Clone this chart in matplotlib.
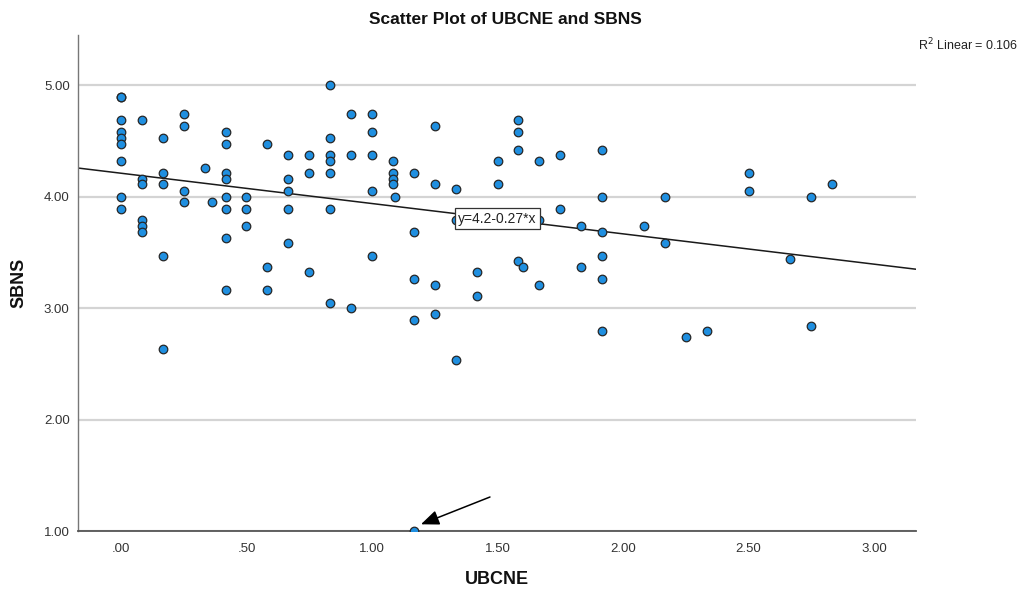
import matplotlib
matplotlib.use("Agg")
import matplotlib.pyplot as plt
import numpy as np

plt.rcParams['font.family'] = ['Liberation Sans', 'DejaVu Sans']

# ---- data ----
ubcne = [0, 0, 0, 0, 0, 0, 0, 0, 0,
         0.083, 0.083, 0.083, 0.083, 0.083, 0.083,
         0.167, 0.167, 0.167, 0.167, 0.167,
         0.25, 0.25, 0.25, 0.25,
         0.333, 0.364,
         0.417, 0.417, 0.417, 0.417, 0.417, 0.417, 0.417, 0.417,
         0.5, 0.5, 0.5,
         0.583, 0.583, 0.583,
         0.667, 0.667, 0.667, 0.667, 0.667,
         0.75, 0.75, 0.75,
         0.833, 0.833, 0.833, 0.833, 0.833, 0.833, 0.833,
         0.917, 0.917, 0.917,
         1.0, 1.0, 1.0, 1.0, 1.0,
         1.083, 1.083, 1.083, 1.083, 1.09,
         1.167, 1.167, 1.167, 1.167, 1.167,
         1.25, 1.25, 1.25, 1.25,
         1.333, 1.333, 1.333,
         1.417, 1.417,
         1.5, 1.5,
         1.583, 1.583, 1.583, 1.583, 1.60,
         1.667, 1.667, 1.667,
         1.75, 1.75,
         1.833, 1.833,
         1.917, 1.917, 1.917, 1.917, 1.917, 1.917,
         2.083, 2.167, 2.167, 2.25, 2.333,
         2.5, 2.5, 2.667, 2.75, 2.75, 2.833]
sbns = [4.89, 4.89, 4.69, 4.58, 4.53, 4.47, 4.32, 4.00, 3.89,
        4.69, 4.16, 4.11, 3.79, 3.74, 3.68,
        4.53, 4.21, 4.11, 3.47, 2.63,
        4.74, 4.63, 4.05, 3.95,
        4.26, 3.95,
        4.58, 4.47, 4.21, 4.16, 4.00, 3.89, 3.63, 3.16,
        4.00, 3.89, 3.74,
        4.47, 3.37, 3.16,
        4.37, 4.16, 4.05, 3.89, 3.58,
        4.37, 4.21, 3.32,
        5.00, 4.53, 4.37, 4.32, 4.21, 3.89, 3.05,
        4.74, 4.37, 3.00,
        4.74, 4.58, 4.37, 4.05, 3.47,
        4.32, 4.21, 4.16, 4.11, 4.00,
        4.21, 3.68, 3.26, 2.89, 1.00,
        4.63, 4.11, 3.21, 2.95,
        4.07, 3.79, 2.53,
        3.32, 3.11,
        4.32, 4.11,
        4.69, 4.58, 4.42, 3.42, 3.37,
        4.32, 3.79, 3.21,
        4.37, 3.89,
        3.74, 3.37,
        4.42, 4.00, 3.68, 3.47, 3.26, 2.79,
        3.74, 4.00, 3.58, 2.74, 2.79,
        4.21, 4.05, 3.44, 4.00, 2.84, 4.11]

fit_intercept = 4.21
fit_slope = -0.272
fit_label = "y=4.2-0.27*x"
r2_label = "R$^2$ Linear = 0.106"

x_ticks = [0.0, 0.5, 1.0, 1.5, 2.0, 2.5, 3.0]
y_ticks = [1.0, 2.0, 3.0, 4.0, 5.0]

# ---- figure ----
fig = plt.figure(figsize=(10.23, 5.92), dpi=100)
ax = fig.add_axes([78/1023, 1-531/592, (916-78)/1023, (531-35)/592])

xlim = (-0.171, 3.167)
ylim = (1.0, 5.45)
ax.set_xlim(*xlim)
ax.set_ylim(*ylim)

# grid lines
for yt in y_ticks:
    ax.axhline(yt, color='#d4d4d4', lw=1.6, zorder=0)

# regression line
xx = np.array(xlim)
ax.plot(xx, fit_intercept + fit_slope * xx, color='#1a1a1a', lw=1.1, zorder=2)

ax.scatter(ubcne, sbns, s=38, facecolor='#1f8fe0', edgecolor='#262626',
           linewidth=0.9, zorder=3)

ax.text(1.5, 3.80, fit_label, ha='center', va='center', fontsize=10,
        color='#222222', zorder=4,
        bbox=dict(boxstyle='square,pad=0.25', facecolor='white',
                  edgecolor='#333333', linewidth=0.9))

ax.annotate('', xy=(1.195, 1.06), xytext=(1.47, 1.305),
            arrowprops=dict(arrowstyle='-|>,head_length=1.1,head_width=0.45',
                            color='black', lw=1.1, shrinkA=0, shrinkB=0),
            zorder=5)

for s in ['top', 'right']:
    ax.spines[s].set_visible(False)
ax.spines['left'].set_color('#777777')
ax.spines['bottom'].set_color('#555555')
ax.spines['bottom'].set_linewidth(1.3)
ax.spines['left'].set_linewidth(1.0)

def fmt(v):
    s = f"{v:.2f}"
    return s[1:] if s.startswith('0') else s

ax.set_xticks(x_ticks)
ax.set_xticklabels([fmt(v) for v in x_ticks])
ax.set_yticks(y_ticks)
ax.set_yticklabels([fmt(v) for v in y_ticks])
ax.tick_params(axis='both', length=0, labelsize=9.5, colors='#333333')
ax.tick_params(axis='x', pad=9)
ax.tick_params(axis='y', pad=6)

fig.text(497/1023, 1-580/592, 'UBCNE', ha='center', va='center',
         fontsize=13, fontweight='bold', color='#111111')
ax.set_ylabel('SBNS', fontsize=13, fontweight='bold', labelpad=12, color='#111111')

fig.text(505/1023, 1-20/592, 'Scatter Plot of UBCNE and SBNS', ha='center',
         va='center', fontsize=12.5, fontweight='bold', color='#111111')
fig.text(918/1023, 1-45/592, r2_label, ha='left', va='center', fontsize=9,
         color='#222222')

fig.savefig('out.png', dpi=100)
